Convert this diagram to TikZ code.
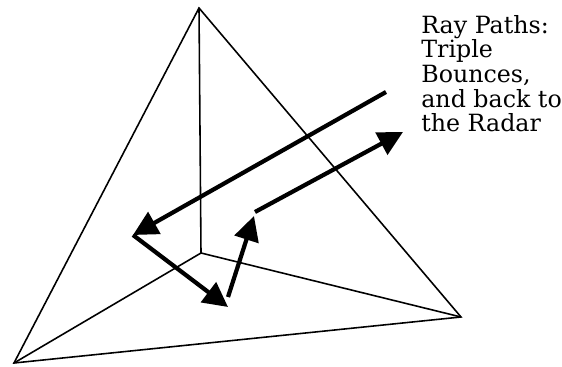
\documentclass[tikz,border=0pt]{standalone}
\usepackage{fontspec}
\setmainfont{DejaVu Serif}
\usetikzlibrary{arrows.meta}

\begin{document}
\begin{tikzpicture}[x=0.02cm,y=-0.02cm,every node/.style={font=\fontsize{13.5}{14}\selectfont}]
    \useasboundingbox (0,0) rectangle (562,367);

    % Corner reflector
    \coordinate (apex) at (199,8);
    \coordinate (back) at (201,253);
    \coordinate (left) at (14,363);
    \coordinate (right) at (461,317);
    \draw[line width=0.9pt] (apex) -- (left) -- (right) -- cycle;
    \draw[line width=0.9pt] (apex) -- (back);
    \draw[line width=0.9pt] (left) -- (back) -- (right);

    % Ray path
    \coordinate (rayin) at (386,92);
    \coordinate (hita) at (133,235);
    \coordinate (hitb) at (228,307);
    \coordinate (hitbout) at (228,297);
    \coordinate (hitc) at (254,216);
    \coordinate (hitcout) at (255,212);
    \coordinate (rayout) at (403,132);
    \tikzset{raypath/.style={line width=2.4pt,-{Triangle[length=14pt,width=14pt]}}}
    \draw[raypath] (rayin) -- (hita);
    \draw[raypath] (hita) -- (hitb);
    \draw[raypath] (hitbout) -- (hitc);
    \draw[raypath] (hitcout) -- (rayout);

    % Label
    \node[anchor=north west,align=left,inner sep=0pt] (raylabel) at (421,15)
      {Ray Paths:\\Triple\\Bounces,\\and back to\\the Radar};
  \end{tikzpicture}
\end{document}
